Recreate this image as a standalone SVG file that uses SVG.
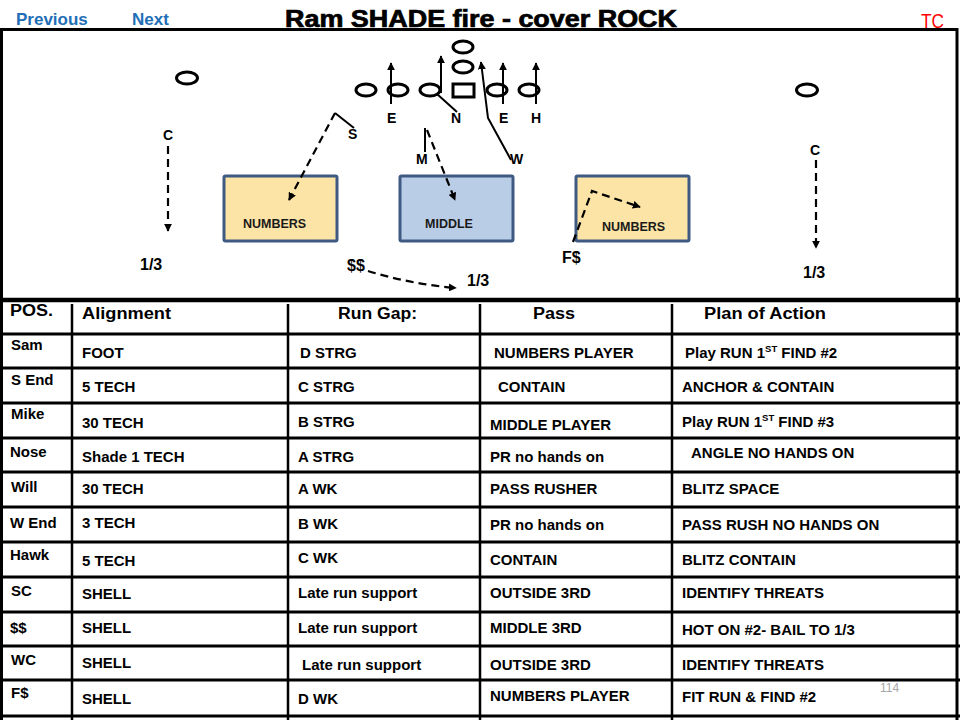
<svg xmlns="http://www.w3.org/2000/svg" width="960" height="720" viewBox="0 0 960 720">
<defs>
<style>
.ttl{font-family:"Liberation Sans",Arial,sans-serif;font-weight:bold;font-size:23px;fill:#000;stroke:#000;stroke-width:0.7}
.nav{font-family:"Liberation Sans",Arial,sans-serif;font-weight:bold;font-size:17px;fill:#1F6FB7}
.tc{font-family:"Liberation Sans",Arial,sans-serif;font-size:20px;fill:#FF0000}
.hdr{font-family:"Liberation Sans",Arial,sans-serif;font-weight:bold;font-size:16px;fill:#000}
.cell{font-family:"Liberation Sans",Arial,sans-serif;font-weight:bold;font-size:15px;fill:#000}
.sup{font-size:9.5px}
.lbl{font-family:"Liberation Sans",Arial,sans-serif;font-weight:bold;font-size:14px;fill:#000}
.big{font-family:"Liberation Sans",Arial,sans-serif;font-weight:bold;font-size:16px;fill:#000}
.zt{font-family:"Liberation Sans",Arial,sans-serif;font-weight:bold;font-size:12.5px;fill:#1a1a1a}
.pg{font-family:"Liberation Sans",Arial,sans-serif;font-size:12px;fill:#A6A6A6}
.pl{fill:none;stroke:#000;stroke-width:3}
.rt{fill:none;stroke:#000;stroke-width:2}
.dash{fill:none;stroke:#000;stroke-width:2.2;stroke-dasharray:8 5}
.grid{stroke:#000;stroke-width:3}
.zy{fill:#FCE4A6;stroke:#3E5A83;stroke-width:3}
.zb{fill:#B9CDE6;stroke:#3E5A83;stroke-width:3}
</style>
<marker id="ah" viewBox="0 0 10 10" refX="9" refY="5" markerWidth="8" markerHeight="8" markerUnits="userSpaceOnUse" orient="auto">
<path d="M0,0 L10,5 L0,10 z" fill="#000"/>
</marker>
</defs>
<rect x="0" y="0" width="960" height="720" fill="#fff"/>

<g id="header">
<text class="nav" x="16" y="25">Previous</text>
<text class="nav" x="132" y="25">Next</text>
<text class="ttl" x="285" y="27" textLength="392" lengthAdjust="spacingAndGlyphs">Ram SHADE fire - cover ROCK</text>
<text class="tc" x="921" y="28" textLength="23" lengthAdjust="spacingAndGlyphs">TC</text>
</g>

<g id="frame">
<line class="grid" x1="0" y1="29.5" x2="958" y2="29.5"/>
<line class="grid" x1="1.5" y1="28" x2="1.5" y2="720"/>
<line class="grid" x1="957" y1="28" x2="957" y2="720"/>
</g>

<g id="zones">
<g id="zone-numbers-left"><rect class="zy" x="224" y="176" width="113" height="65" rx="1.5"/><text class="zt" x="243" y="228">NUMBERS</text></g>
<g id="zone-middle"><rect class="zb" x="400" y="176" width="113" height="65" rx="1.5"/><text class="zt" x="425" y="228">MIDDLE</text></g>
<g id="zone-numbers-right"><rect class="zy" x="576" y="176" width="113" height="65" rx="1.5"/><text class="zt" x="602" y="231">NUMBERS</text></g>
</g>

<g id="players">
<g id="p-qb1"><ellipse class="pl" cx="463" cy="47" rx="10" ry="6"/></g>
<g id="p-qb2"><ellipse class="pl" cx="463" cy="67" rx="10" ry="6"/></g>
<g id="p-o1"><ellipse class="pl" cx="366" cy="90" rx="10" ry="6"/></g>
<g id="p-o2"><ellipse class="pl" cx="398" cy="90" rx="10" ry="6"/></g>
<g id="p-o3"><ellipse class="pl" cx="430" cy="90" rx="10" ry="6"/></g>
<g id="p-center"><rect class="pl" x="453" y="84" width="21" height="13"/></g>
<g id="p-o5"><ellipse class="pl" cx="497" cy="90" rx="10" ry="6"/></g>
<g id="p-o6"><ellipse class="pl" cx="529" cy="90" rx="10" ry="6"/></g>
<g id="p-wr-left"><ellipse class="pl" cx="187" cy="78" rx="10.5" ry="6"/></g>
<g id="p-wr-right"><ellipse class="pl" cx="807" cy="90" rx="10.5" ry="6"/></g>
</g>

<g id="connectors">
<line class="rt" x1="391" y1="104" x2="391" y2="63" marker-end="url(#ah)"/>
<line class="rt" x1="441" y1="93" x2="441" y2="56" marker-end="url(#ah)"/>
<line class="rt" x1="437" y1="94" x2="457" y2="112"/>
<line class="rt" x1="503" y1="104" x2="503" y2="63" marker-end="url(#ah)"/>
<line class="rt" x1="536" y1="104" x2="536" y2="63" marker-end="url(#ah)"/>
<polyline class="rt" points="511,160 488,118 481,62" marker-end="url(#ah)"/>
<line class="rt" x1="354" y1="128" x2="335" y2="113"/>
<line class="dash" x1="335" y1="113" x2="289" y2="200" marker-end="url(#ah)"/>
<line class="rt" x1="425" y1="152" x2="425" y2="128"/>
<line class="dash" x1="427" y1="130" x2="455" y2="200" marker-end="url(#ah)"/>
<line class="dash" x1="168" y1="146" x2="168" y2="231" marker-end="url(#ah)"/>
<line class="dash" x1="816" y1="160" x2="816" y2="248" marker-end="url(#ah)"/>
<path class="dash" d="M368,271 Q410,284 456,288" marker-end="url(#ah)"/>
<polyline class="dash" points="573,242 592,191 640,207" marker-end="url(#ah)"/>
</g>

<g id="labels">
<text class="lbl" x="387" y="123">E</text>
<text class="lbl" x="451" y="123">N</text>
<text class="lbl" x="499" y="123">E</text>
<text class="lbl" x="531" y="123">H</text>
<text class="lbl" x="163" y="140">C</text>
<text class="lbl" x="810" y="155">C</text>
<text class="lbl" x="348" y="139">S</text>
<text class="lbl" x="416" y="164">M</text>
<text class="lbl" x="510" y="164">W</text>
<text class="big" x="140" y="270">1/3</text>
<text class="big" x="347" y="271">$$</text>
<text class="big" x="467" y="286">1/3</text>
<text class="big" x="562" y="263">F$</text>
<text class="big" x="803" y="278">1/3</text>
</g>

<g id="table-grid">
<line stroke="#000" stroke-width="4.5" x1="0" y1="300" x2="960" y2="300"/>
<line class="grid" x1="0" y1="334" x2="960" y2="334"/>
<line class="grid" x1="0" y1="368" x2="960" y2="368"/>
<line class="grid" x1="0" y1="403" x2="960" y2="403"/>
<line class="grid" x1="0" y1="438" x2="960" y2="438"/>
<line class="grid" x1="0" y1="472" x2="960" y2="472"/>
<line class="grid" x1="0" y1="507" x2="960" y2="507"/>
<line class="grid" x1="0" y1="542" x2="960" y2="542"/>
<line class="grid" x1="0" y1="577" x2="960" y2="577"/>
<line class="grid" x1="0" y1="612" x2="960" y2="612"/>
<line class="grid" x1="0" y1="646" x2="960" y2="646"/>
<line class="grid" x1="0" y1="680" x2="960" y2="680"/>
<line class="grid" x1="0" y1="716" x2="960" y2="716"/>
<line stroke="#000" stroke-width="2.5" x1="72" y1="304" x2="72" y2="720"/>
<line stroke="#000" stroke-width="2.5" x1="288" y1="304" x2="288" y2="720"/>
<line stroke="#000" stroke-width="2.5" x1="480" y1="304" x2="480" y2="720"/>
<line stroke="#000" stroke-width="2.5" x1="672" y1="304" x2="672" y2="720"/>
</g>

<g id="table-header">
<text class="hdr" x="10" y="316" textLength="43" lengthAdjust="spacingAndGlyphs">POS.</text>
<text class="hdr" x="82" y="319" textLength="89" lengthAdjust="spacingAndGlyphs">Alignment</text>
<text class="hdr" x="338" y="319" textLength="79" lengthAdjust="spacingAndGlyphs">Run Gap:</text>
<text class="hdr" x="533" y="319" textLength="42" lengthAdjust="spacingAndGlyphs">Pass</text>
<text class="hdr" x="704" y="319" textLength="122" lengthAdjust="spacingAndGlyphs">Plan of Action</text>
</g>

<g id="table-rows">
<g id="row-sam">
<text class="cell" x="11" y="350">Sam</text>
<text class="cell" x="82" y="358">FOOT</text>
<text class="cell" x="300" y="358">D STRG</text>
<text class="cell" x="494" y="358">NUMBERS PLAYER</text>
<text class="cell" x="685" y="358">Play RUN 1<tspan class="sup" dy="-6">ST</tspan><tspan dy="6"> FIND #2</tspan></text>
</g>
<g id="row-send">
<text class="cell" x="11" y="385">S End</text>
<text class="cell" x="82" y="392">5 TECH</text>
<text class="cell" x="298" y="392">C STRG</text>
<text class="cell" x="498" y="392">CONTAIN</text>
<text class="cell" x="682" y="392">ANCHOR &amp; CONTAIN</text>
</g>
<g id="row-mike">
<text class="cell" x="11" y="419">Mike</text>
<text class="cell" x="82" y="428">30 TECH</text>
<text class="cell" x="298" y="427">B STRG</text>
<text class="cell" x="490" y="430">MIDDLE PLAYER</text>
<text class="cell" x="682" y="427">Play RUN 1<tspan class="sup" dy="-6">ST</tspan><tspan dy="6"> FIND #3</tspan></text>
</g>
<g id="row-nose">
<text class="cell" x="10" y="457">Nose</text>
<text class="cell" x="82" y="462">Shade 1 TECH</text>
<text class="cell" x="298" y="462">A STRG</text>
<text class="cell" x="490" y="462">PR no hands on</text>
<text class="cell" x="691" y="458">ANGLE NO HANDS ON</text>
</g>
<g id="row-will">
<text class="cell" x="11" y="492">Will</text>
<text class="cell" x="82" y="494">30 TECH</text>
<text class="cell" x="298" y="494">A WK</text>
<text class="cell" x="490" y="494">PASS RUSHER</text>
<text class="cell" x="682" y="494">BLITZ SPACE</text>
</g>
<g id="row-wend">
<text class="cell" x="10" y="528">W End</text>
<text class="cell" x="82" y="528">3 TECH</text>
<text class="cell" x="298" y="529">B WK</text>
<text class="cell" x="490" y="530">PR no hands on</text>
<text class="cell" x="682" y="530">PASS RUSH NO HANDS ON</text>
</g>
<g id="row-hawk">
<text class="cell" x="10" y="560">Hawk</text>
<text class="cell" x="82" y="566">5 TECH</text>
<text class="cell" x="298" y="563">C WK</text>
<text class="cell" x="490" y="565">CONTAIN</text>
<text class="cell" x="682" y="565">BLITZ CONTAIN</text>
</g>
<g id="row-sc">
<text class="cell" x="11" y="596">SC</text>
<text class="cell" x="82" y="599">SHELL</text>
<text class="cell" x="298" y="598">Late run support</text>
<text class="cell" x="490" y="598">OUTSIDE 3RD</text>
<text class="cell" x="682" y="598">IDENTIFY THREATS</text>
</g>
<g id="row-ss">
<text class="cell" x="10" y="633">$$</text>
<text class="cell" x="82" y="633">SHELL</text>
<text class="cell" x="298" y="633">Late run support</text>
<text class="cell" x="490" y="633">MIDDLE 3RD</text>
<text class="cell" x="682" y="635">HOT ON #2- BAIL TO 1/3</text>
</g>
<g id="row-wc">
<text class="cell" x="11" y="665">WC</text>
<text class="cell" x="82" y="668">SHELL</text>
<text class="cell" x="302" y="670">Late run support</text>
<text class="cell" x="490" y="670">OUTSIDE 3RD</text>
<text class="cell" x="682" y="670">IDENTIFY THREATS</text>
</g>
<g id="row-fs">
<text class="cell" x="11" y="698">F$</text>
<text class="cell" x="82" y="704">SHELL</text>
<text class="cell" x="298" y="704">D WK</text>
<text class="cell" x="490" y="701">NUMBERS PLAYER</text>
<text class="cell" x="682" y="702">FIT RUN &amp; FIND #2</text>
</g>
</g>
<text class="pg" x="880" y="692">114</text>
</svg>
